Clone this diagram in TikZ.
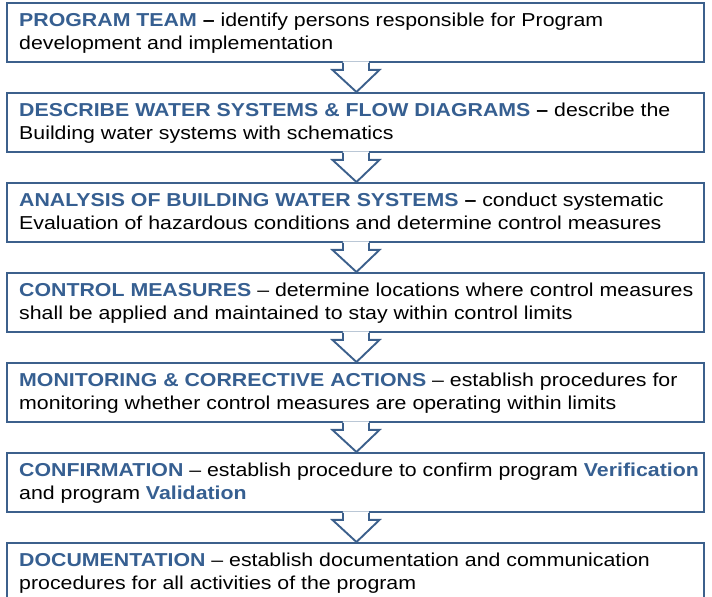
\documentclass[tikz,border=0pt]{standalone}
\usepackage{fontspec}
\setmainfont{Liberation Sans}[FakeStretch=1.14]
\usetikzlibrary{calc}
\definecolor{boxblue}{RGB}{60,96,140}
\definecolor{titleblue}{RGB}{54,95,145}
\newcommand{\ttl}[1]{\textbf{\textcolor{titleblue}{#1}}}
\tikzset{
  stepbox/.style={draw=boxblue, line width=1.9bp, minimum width=697bp, minimum height=59bp, inner sep=0pt, anchor=north west},
  steptext/.style={anchor=north west, inner sep=0pt, align=left, font=\fontsize{18.7bp}{23bp}\selectfont},
  arrowline/.style={draw=boxblue, line width=1.9bp, line join=miter},
}
\newcommand{\firststrut}{\rule{0pt}{17bp}}
\begin{document}
\begin{tikzpicture}[x=1bp,y=-1bp]
\useasboundingbox (0,0) rectangle (712,597);
\begin{scope}
\clip (0,0) rectangle (712,597);
\foreach \i/\t in {1/2,2/92,3/182,4/272,5/362,6/452,7/542}{
  \node[stepbox] (b\i) at (6,\t) {};
}
\node[steptext] (t1) at ($(b1.north west)+(13,7)$) {\firststrut\ttl{PROGRAM TEAM} \textbf{–} identify persons responsible for Program\\development and implementation};
\node[steptext] (t2) at ($(b2.north west)+(13,7)$) {\firststrut\ttl{DESCRIBE WATER SYSTEMS \& FLOW DIAGRAMS} \textbf{–} describe the\\Building water systems with schematics};
\node[steptext] (t3) at ($(b3.north west)+(13,7)$) {\firststrut\ttl{ANALYSIS OF BUILDING WATER SYSTEMS} \textbf{–} conduct systematic\\Evaluation of hazardous conditions and determine control measures};
\node[steptext] (t4) at ($(b4.north west)+(13,7)$) {\firststrut\ttl{CONTROL MEASURES} – determine locations where control measures\\shall be applied and maintained to stay within control limits};
\node[steptext] (t5) at ($(b5.north west)+(13,7)$) {\firststrut\ttl{MONITORING \& CORRECTIVE ACTIONS} – establish procedures for\\monitoring whether control measures are operating within limits};
\node[steptext] (t6) at ($(b6.north west)+(13,7)$) {\firststrut\ttl{CONFIRMATION} – establish procedure to confirm program \ttl{Verification}\\and program \ttl{Validation}};
\node[steptext] (t7) at ($(b7.north west)+(13,7)$) {\firststrut\ttl{DOCUMENTATION} – establish documentation and communication\\procedures for all activities of the program};
\foreach \a/\b in {1/2,2/3,3/4,4/5,5/6,6/7}{
  \fill[white] ($(b\a.south)+(-12.5,-1.5)$) -- ($(b\a.south)+(-12.5,7)$) -- ($(b\a.south)+(-23,7)$) -- ($(b\b.north)+(1,0)$) -- ($(b\a.south)+(24,7)$) -- ($(b\a.south)+(13.5,7)$) -- ($(b\a.south)+(13.5,-1.5)$) -- cycle;
  \draw[arrowline] ($(b\a.south)+(-12.5,0)$) -- ($(b\a.south)+(-12.5,7)$) -- ($(b\a.south)+(-23,7)$) -- ($(b\b.north)+(1,0)$) -- ($(b\a.south)+(24,7)$) -- ($(b\a.south)+(13.5,7)$) -- ($(b\a.south)+(13.5,0)$);
}
\end{scope}
\end{tikzpicture}
\end{document}
